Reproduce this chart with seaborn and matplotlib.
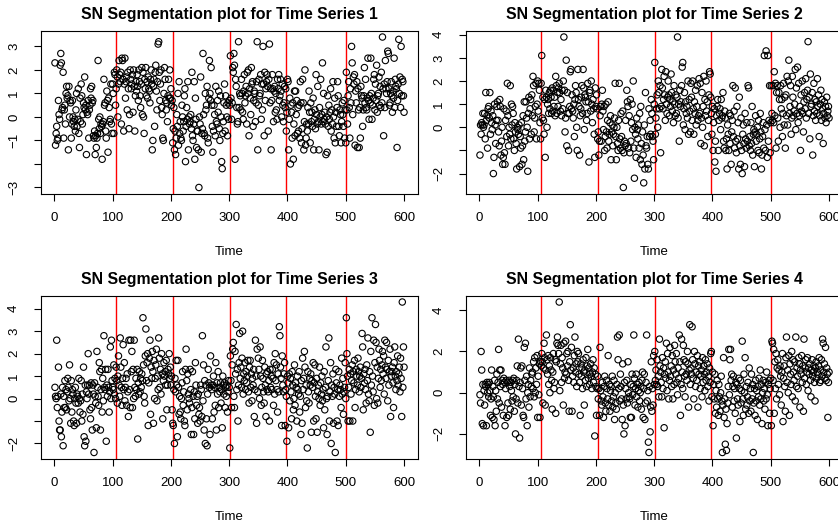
import numpy as np
import matplotlib
matplotlib.use("Agg")
import matplotlib.pyplot as plt
import seaborn as sns

# values (time 1..600)
ts1 = [
    2.3, -1.2, -0.7, -0.4, -1.0, -0.9, 0.7, 0.1, -0.1, 2.2,
    2.7, 2.3, 0.3, 0.4, 1.9, -0.9, 0.3, 0.5, -0.3, 1.0,
    1.3, 0.8, 0.9, -1.4, 1.3, 0.0, 0.7, 0.6, -0.9, -0.3,
    0.7, 0.0, -0.2, -0.4, -0.1, -0.6, 0.3, 1.0, -0.4, -0.1,
    1.2, -0.7, -1.3, 0.8, -0.2, 1.4, 0.9, -0.3, 0.1, 0.6,
    0.4, 1.7, 0.3, 0.5, -1.6, 0.2, 0.1, 0.7, -0.9, 0.3,
    0.5, 1.2, 0.8, 1.3, 0.6, 0.7, -0.8, -0.9, -0.6, -1.6,
    -0.8, -1.3, -0.9, -0.7, 2.4, -0.1, -0.5, 0.0, -0.7, -0.3,
    -0.4, -1.8, -0.3, -0.2, 1.6, 0.5, 0.6, -0.6, -0.9, 1.1,
    0.7, -1.5, 0.8, 0.4, -0.2, -0.1, 1.4, -0.3, -0.7, 1.4,
    1.0, -0.7, 1.9, 1.8, 0.5, 1.2, 2.0, 1.7, 0.0, 1.4,
    2.4, 1.8, 1.5, 1.9, -0.3, 2.5, 2.4, 1.6, -0.6, 1.4,
    2.5, 0.8, 1.5, 1.7, 0.3, 1.9, 1.2, -0.5, 0.1, 2.0,
    1.6, 1.2, 1.4, 1.8, 0.2, 2.0, 1.3, -0.6, 0.9, 1.5,
    1.1, 1.8, 1.3, 0.7, 2.0, 1.5, 0.9, 0.4, 1.4, 2.1,
    0.1, 1.9, 0.0, -0.7, 1.6, 1.2, 2.1, 0.9, 1.5, 0.8,
    1.7, 1.2, 1.1, 0.6, 1.6, 2.0, 1.4, -1.4, -1.0, 1.3,
    1.6, -0.4, 1.9, 2.2, 1.1, 0.3, 1.5, 3.1, 3.2, 1.9,
    0.7, 1.4, 2.0, 0.4, 0.1, -0.9, -1.0, 1.0, 2.1, 1.6,
    0.7, 0.3, 0.6, -0.2, 0.9, 1.6, 0.8, 2.0, 0.8, 1.2,
    0.5, 0.7, -1.1, -0.5, 0.4, -1.4, -0.6, -1.6, -0.9, 0.1,
    -0.4, 1.0, -1.2, 1.5, -0.7, -0.2, -0.9, -1.0, 0.5, 0.0,
    -0.6, -0.2, 0.9, 1.2, -1.9, -0.4, 0.4, -0.1, 1.5, -1.4,
    0.0, -0.3, -0.2, 0.1, -0.5, 1.9, -0.8, -1.0, -0.3, 1.5,
    -1.8, 0.8, -0.1, -1.3, -0.6, -0.6, -1.4, -3.0, 0.0, -0.3,
    1.7, -1.5, -0.7, -0.5, 2.7, 0.1, -0.7, -0.8, 1.0, 0.3,
    0.5, 1.3, -0.9, -1.1, 0.8, 2.4, 1.0, 0.7, 2.1, 0.5,
    -0.4, -1.5, -0.6, 0.5, 0.1, -0.8, 1.3, -0.2, -0.3, 0.7,
    0.2, 1.1, -0.5, -1.0, 0.9, 0.0, -1.9, -2.2, -0.7, -0.2,
    0.6, 1.4, -0.6, 0.9, 0.5, 0.0, -0.8, 0.6, -0.1, 0.7,
    0.5, 2.6, 0.8, -0.1, 0.6, 2.1, 1.9, 2.7, 2.2, -1.8,
    1.6, 1.3, 0.4, -0.3, -0.2, 3.2, 0.4, 1.0, 0.9, 0.3,
    1.6, 1.0, 0.2, -0.1, 1.1, 1.8, 0.6, 0.9, 1.3, -0.3,
    1.9, 1.0, 2.0, -0.8, 1.2, 0.8, 0.1, 2.1, 1.4, 1.5,
    -0.4, 0.7, 1.1, 1.0, -0.2, 0.6, 1.5, 3.2, -1.4, 0.5,
    1.6, 0.9, 1.0, 1.8, -0.1, 1.4, 0.3, 3.0, 1.4, -0.8,
    1.9, 0.7, 1.2, 1.5, 1.8, 1.3, -0.6, 1.6, 3.1, 0.6,
    1.2, -1.4, 0.7, 1.8, 1.2, -0.2, 1.1, 1.3, 0.2, 1.0,
    0.3, -0.1, 1.6, 1.2, 1.8, 0.7, 0.9, 1.6, 1.1, 0.0,
    1.4, 0.5, -0.2, 0.6, 1.3, 0.4, 1.2, -0.6, 0.2, 1.6,
    1.5, -1.4, -0.1, 0.8, -2.0, 0.5, 0.2, -0.9, 0.6, -1.8,
    -0.3, 1.1, -0.8, 1.1, 0.1, 0.7, -0.7, 0.4, -0.6, 0.5,
    -0.9, 1.5, 0.6, -1.1, -0.5, 1.6, 0.6, -1.4, -0.2, 2.0,
    -1.2, -0.9, -0.3, -0.6, 0.4, -0.3, 1.1, 0.2, -1.1, 0.6,
    -0.2, 0.2, -0.4, 0.8, -1.4, -0.1, 0.3, -0.5, 1.8, 0.1,
    -0.3, 1.3, -0.2, -1.4, 0.4, 0.0, 1.6, -0.3, 0.1, 2.3,
    -0.2, 1.0, -0.1, 0.2, -0.3, -1.6, 0.0, -1.5, 0.9, -0.4,
    0.5, -0.1, 0.2, 1.2, -0.6, 0.3, -0.3, 1.5, 0.0, -0.9,
    0.8, -1.1, 0.2, -0.4, 0.4, 1.5, 0.9, -0.4, -0.8, 0.3,
    0.1, -1.1, -0.2, 0.6, 0.1, -0.4, 0.7, -0.9, 0.3, -1.1,
    1.9, 0.3, -0.3, 0.9, 1.5, 0.4, -0.9, 1.2, 0.6, 3.0,
    2.3, 0.1, 1.7, 1.4, 1.8, -1.2, 1.1, 0.6, 1.5, -1.3,
    1.2, 0.3, -1.3, 0.4, -0.9, 1.3, 0.9, 0.8, -0.4, 0.3,
    0.9, 2.1, 0.6, 1.6, 0.4, 0.3, 0.8, 2.5, 0.7, -0.1,
    0.9, 0.6, 2.5, 1.0, -0.1, 0.5, 0.8, 1.6, 1.8, 0.3,
    1.4, 0.7, 2.2, 0.2, 0.9, 1.0, 1.7, 0.5, 1.3, 0.4,
    1.9, 0.6, 3.4, 1.2, -0.8, 1.4, 0.4, 2.4, 1.2, 1.0,
    1.5, 2.8, 2.7, 1.2, 0.5, 0.6, 1.0, 1.5, 0.9, 0.2,
    1.1, 0.8, 2.5, 0.4, 1.6, 1.3, 1.2, -1.3, 0.7, 1.4,
    3.3, 1.0, 1.7, 0.4, 3.0, 0.9, 1.6, 1.5, 0.9, 0.2,
]

ts2 = [
    -1.2, 0.1, -0.3, 0.2, 0.1, 0.6, 0.0, 0.1, 0.6, -0.5,
    1.5, 0.3, 0.5, -0.9, 0.8, 0.9, 0.4, 1.5, -0.3, 0.7,
    0.2, -0.1, 0.5, -2.0, -1.3, 1.0, 0.1, -0.7, 0.3, 0.9,
    1.1, 0.3, -0.2, -0.8, 1.2, 0.9, -1.2, -0.6, 0.0, -1.6,
    -1.3, 0.8, -1.1, -1.6, 0.3, 0.7, -0.4, 1.9, 0.5, -0.8,
    0.0, -0.3, 1.8, -0.5, 1.0, 0.1, 0.9, 0.6, -0.5, -1.0,
    0.2, -0.2, -0.7, -1.8, 0.0, -0.1, -0.3, 0.1, -1.7, -0.4,
    -0.9, 0.2, -1.6, -0.8, 0.5, -1.4, 1.1, -0.6, -0.2, 1.1,
    0.4, 0.0, -1.9, 0.6, 1.3, -0.5, 0.8, 1.2, -0.3, 1.4,
    0.5, 2.2, 1.8, -0.2, 0.4, 0.9, 1.9, -0.5, 1.0, 2.0,
    0.7, 1.9, 1.6, 0.2, -0.5, 1.9, 3.1, 0.4, 1.3, 0.3,
    -0.3, 1.2, -1.3, 1.6, 1.3, 0.0, 1.0, 1.2, 0.6, 1.5,
    0.8, 1.6, 1.3, 0.6, 1.7, 0.7, 1.6, 0.9, 1.3, 0.5,
    2.2, 1.8, 0.6, 1.5, 0.9, 1.7, 1.9, 1.5, 0.7, 1.2,
    0.5, 1.6, 0.8, 2.0, 3.9, 1.6, -0.2, 0.4, 2.9, -0.8,
    1.5, 0.6, -1.0, 0.6, 0.9, 2.4, 2.5, 0.8, 1.4, 0.7,
    0.4, 1.0, -0.4, 1.2, 1.8, 1.5, 0.0, -1.0, 2.5, 1.2,
    0.9, -1.2, 0.5, 0.8, 1.3, 1.8, 0.6, 2.5, 1.7, -0.1,
    1.4, 1.3, 1.1, 0.3, 0.6, 1.9, 1.1, -1.5, 1.5, 1.6,
    0.7, 2.0, 1.0, 0.2, 1.2, 0.8, -0.3, -1.3, 1.7, 0.9,
    1.4, 0.8, -0.5, -0.2, -1.2, -0.6, 0.5, 0.9, -0.6, 1.0,
    1.6, 0.7, -0.1, 0.9, -1.0, -0.4, 1.0, -0.2, -0.9, 0.3,
    1.1, -0.6, -0.3, 0.2, 0.5, -1.4, -0.2, 0.1, -0.8, -0.3,
    0.0, 0.4, 1.9, -0.4, -1.4, 0.0, -0.7, -1.0, 0.3, 1.9,
    -0.5, -0.9, 0.6, -0.4, -1.0, 0.7, -2.6, -1.1, -0.6, -0.8,
    0.3, -0.7, 1.6, 1.1, 0.9, -0.9, 0.5, -1.1, 1.2, -0.6,
    0.2, 1.0, -0.1, 2.0, -0.9, -2.2, 0.0, -0.3, -1.3, 0.4,
    -0.1, -0.5, 0.1, -0.9, 0.6, -1.4, 0.9, -0.7, -1.6, -0.2,
    -1.2, -2.4, 0.1, -1.8, 1.5, -0.8, -0.9, -0.4, -1.6, -1.8,
    0.8, -0.4, 0.3, -0.3, 1.2, 0.6, -0.4, -0.6, -1.4, 1.0,
    2.8, -0.3, 0.4, 0.8, 1.4, 0.0, 2.0, 1.5, 0.8, 1.8,
    -1.1, 0.9, 2.5, 1.7, 0.8, 1.2, 2.2, 1.4, 0.3, 2.4,
    1.0, 0.6, 1.3, 2.0, 1.4, 0.5, 1.2, 0.9, 2.3, 1.5,
    0.7, 1.1, 0.2, 1.8, 1.0, 0.5, 1.4, 0.6, 1.3, 3.9,
    0.4, 1.0, -0.6, 1.6, 0.9, 1.1, 1.8, 2.6, 2.8, 0.1,
    0.8, 1.5, -0.1, 1.1, 0.6, 0.9, 0.4, 2.0, -0.3, 1.2,
    0.7, -0.2, 1.9, 1.3, 0.3, 2.0, 0.8, -0.3, 1.1, 0.6,
    1.6, 0.1, 0.9, 1.8, 0.3, 0.5, 2.1, 0.6, 1.9, -0.7,
    0.4, 1.5, 0.0, 0.9, 2.2, -0.8, 1.2, 0.5, 2.0, 0.7,
    1.1, -0.4, 0.3, 1.4, 2.4, 2.3, 1.3, 0.6, -0.3, 0.9,
    -1.0, 0.2, 0.8, -1.5, -0.6, -1.9, 0.5, 0.9, 1.2, -1.0,
    0.3, 0.6, 0.8, -0.1, 1.2, 0.4, 0.5, 1.5, -0.6, -0.9,
    0.7, 0.4, -1.0, -0.5, -1.8, 0.1, -0.3, -1.0, 0.6, -0.7,
    0.5, -1.6, -0.2, 0.3, 1.8, -0.4, 0.7, -0.9, 1.7, -0.6,
    -1.1, 0.9, -0.5, 0.2, -1.8, 1.3, -0.8, -1.6, 0.4, -1.0,
    -2.0, -0.3, 0.1, -0.7, -1.7, 0.6, -0.5, -0.9, 0.2, -0.6,
    1.8, 1.7, -0.8, -0.4, -1.0, 0.2, -0.7, 0.9, -1.2, -0.3,
    -0.1, -1.7, -0.2, 0.5, -0.6, -0.3, 0.0, -1.0, 0.3, -1.1,
    -0.5, 0.6, -0.2, -1.8, -1.2, -0.4, 0.2, -0.9, 3.1, -0.1,
    -1.0, 3.3, 0.1, -1.3, 3.1, -0.6, 0.3, 1.8, -1.1, 0.2,
    1.8, 0.6, 0.3, 1.8, 0.2, 2.4, 0.5, 1.9, -0.9, 1.5,
    1.8, 0.4, -0.6, 1.5, 1.2, 0.0, 1.8, 0.8, 1.2, -0.4,
    0.6, 1.9, 0.1, 1.3, -0.9, 1.4, 0.5, 2.2, 0.1, 2.0,
    2.9, 0.6, 0.9, 1.8, -0.3, 0.4, 2.2, 1.3, 0.5, 0.7,
    1.0, 2.5, -0.1, 1.7, 0.6, 2.6, 0.2, 1.9, 0.5, 0.9,
    -1.0, 1.4, 0.7, 2.0, 0.6, -0.2, 1.1, 1.5, 0.8, 2.1,
    0.4, 1.2, 1.6, 3.7, 0.6, 1.3, -0.5, 2.3, 0.9, 1.0,
    1.5, -1.2, 0.5, 1.9, 0.7, 1.2, 0.3, 1.1, 0.6, 2.1,
    0.9, 1.4, -0.4, 0.5, 1.0, 1.6, 0.3, 1.2, 0.8, -0.7,
    0.6, 1.1, 0.4, 0.9, 0.2, 1.3, 0.5, 0.7, 0.9, 0.4,
]

ts3 = [
    0.5, 0.1, 0.0, 2.6, -0.4, 0.1, 1.4, -1.0, -1.4, -1.4,
    0.2, -1.7, -0.6, 0.5, -2.1, 0.1, -0.4, 0.8, -0.4, 0.4,
    -0.5, 0.3, 0.9, 0.5, -0.1, 1.5, 0.0, -1.1, 0.8, -0.6,
    0.4, 0.2, -1.0, -1.2, 0.0, 0.5, -0.2, -1.1, 0.2, 0.1,
    -0.2, 0.9, 0.0, -0.6, -0.1, 0.8, -1.0, 0.2, -0.7, 1.4,
    -1.7, -2.1, 0.6, -1.9, 0.3, 0.0, 0.6, 2.0, 0.2, 0.6,
    -0.5, -0.9, 0.7, -0.4, -1.4, 0.6, 0.2, -2.4, 0.7, 0.1,
    -0.2, -1.3, 2.1, 0.5, 0.1, -0.3, 1.6, 1.2, -1.4, 0.4,
    1.3, -0.6, 0.9, -0.1, 2.8, 0.5, 0.4, 1.3, -1.9, 0.6,
    0.1, 1.3, 0.5, -0.6, 0.3, 2.3, 0.0, 2.6, 0.8, 0.5,
    0.4, 1.5, 0.2, 0.9, 0.0, 1.4, 0.8, -0.2, 1.0, 1.9,
    0.6, 0.1, 2.7, 1.4, 0.5, -0.3, 0.9, 2.4, 0.4, 1.6,
    -0.1, 0.5, 0.9, -0.3, 1.1, 0.3, -0.8, 2.6, 0.4, -0.4,
    2.6, 1.2, 2.1, -0.4, 1.3, 0.0, 2.6, 0.5, 0.1, 0.9,
    0.4, 1.3, -1.8, 0.7, 0.2, 1.2, 0.3, 0.9, 0.5, 1.1,
    0.8, 3.6, 1.5, 0.1, -0.2, 1.9, 3.1, 0.8, 1.6, 2.0,
    -1.2, 0.7, 1.8, 2.6, -0.7, 1.4, 0.9, 2.1, 1.2, -1.1,
    1.7, 0.0, 0.9, 1.5, 2.2, -0.1, 1.0, 0.4, 2.7, 1.8,
    0.5, 1.3, 0.2, 2.0, 1.1, -0.9, 0.8, 1.6, 1.0, 1.2,
    0.6, 1.7, -0.5, 0.6, 1.3, 1.1, 2.0, 0.9, 1.4, 0.6,
    1.0, -0.5, -1.1, -1.2, 0.4, -2.0, 0.9, 0.3, 1.7, 0.6,
    -1.7, 1.7, 0.5, -0.7, 0.1, -0.6, -0.9, 0.0, 0.7, 1.2,
    -0.3, 0.3, -1.0, -1.2, 1.3, 2.2, 0.8, -0.5, 1.1, 0.2,
    0.0, -0.2, 1.3, 0.4, -1.6, -0.4, 1.2, 0.1, -1.6, 0.3,
    -0.9, 1.6, 0.6, -0.3, 0.1, -1.1, 0.2, -0.7, -0.4, -1.0,
    0.6, 0.4, -0.8, 2.8, -0.1, 1.5, -1.4, 0.8, -2.0, 0.6,
    -0.9, -2.1, 0.2, 1.3, 0.7, 0.5, -1.6, 1.9, 0.6, 0.4,
    -0.9, 0.6, 1.0, -0.6, 0.5, -0.3, 1.6, -1.4, 0.7, 0.2,
    1.2, -0.4, 0.5, 0.3, 0.7, -0.2, 0.4, -1.3, 1.0, 0.6,
    0.2, 0.7, -0.4, 0.5, 0.1, 0.6, -0.6, 0.3, 0.8, 0.5,
    -2.2, 1.9, 0.8, -0.4, 1.5, 2.2, 2.5, 0.1, -0.4, 2.1,
    1.1, 3.3, 0.4, 1.3, -1.0, 0.6, 1.6, 2.9, 0.9, 1.4,
    0.5, 1.8, 3.0, 0.2, 1.1, 0.8, 1.6, 0.4, 1.2, 0.7,
    1.0, 1.7, 0.3, -0.2, 1.4, 1.7, 0.5, 1.1, -0.1, 0.9,
    0.6, 1.3, -0.8, 0.4, 2.6, 1.0, -1.1, 2.2, 0.3, 1.8,
    1.3, 0.0, 2.3, 1.0, -0.3, 0.5, 1.7, 0.9, 0.3, -0.2,
    1.4, 0.6, -0.8, 1.1, 0.4, 1.2, 0.3, 0.8, -1.0, 1.3,
    0.5, 1.0, 0.4, 1.3, 0.9, -0.3, 1.6, 0.2, 2.0, 0.8,
    1.5, 0.4, -0.6, 1.1, 0.3, 3.2, 2.8, 1.4, 0.9, -1.2,
    1.9, 0.6, 0.3, 1.1, 1.6, -1.2, 0.4, 0.1, -1.9, 1.0,
    0.7, -1.3, 1.1, -0.1, 0.9, 0.3, -0.9, 1.2, 0.6, -0.5,
    0.0, 1.5, -0.3, 0.7, 0.5, -1.0, 1.0, 0.4, 0.2, 1.2,
    -0.6, 0.1, -1.6, 0.8, -1.1, 1.8, 0.4, 0.9, 2.1, 1.4,
    -0.4, 0.6, -0.1, -2.2, 1.2, 0.3, -0.2, 0.9, 0.6, 1.1,
    -1.5, 0.8, 0.5, 1.6, -1.0, 0.7, 1.5, 0.1, -0.9, 0.9,
    -1.5, 0.3, 0.6, 0.0, 1.4, -0.3, 0.7, 0.2, 1.0, -0.1,
    0.4, -1.3, 1.2, -0.5, 0.5, 2.3, 0.0, -1.6, 0.1, 0.8,
    2.7, -1.0, 0.3, 1.6, -2.0, 0.6, 0.1, 1.1, -1.1, 0.5,
    0.2, -2.4, 1.3, 0.7, -1.0, 0.4, -1.2, 1.2, 0.1, 0.6,
    0.4, -0.4, 1.8, 0.2, 0.9, -0.7, 0.3, 0.5, 1.6, 0.0,
    3.6, 2.0, 1.0, -1.0, 0.5, 1.3, -1.0, 1.1, 0.2, 0.8,
    1.5, -1.0, 1.2, 0.7, 1.7, -0.4, 0.4, 1.3, 1.0, 0.6,
    1.8, 1.2, 0.3, 1.0, 1.4, 0.5, 0.9, 2.9, 2.3, -0.5,
    1.1, 0.7, 1.3, 0.4, -0.2, 1.5, 0.8, 2.7, 0.2, -0.1,
    1.2, -1.5, 2.1, 0.6, 3.6, 1.0, 0.3, 2.6, -0.3, 1.6,
    3.3, 2.5, 0.0, 1.4, -0.2, 0.9, 2.2, 1.7, 0.5, 1.3,
    0.8, 1.5, 2.1, 1.1, 1.9, 0.2, 2.6, 1.4, 0.9, 2.5,
    1.3, -0.1, 1.7, 0.6, 1.2, 2.2, -0.8, 1.0, 1.2, 1.4,
    0.7, -0.4, 1.6, 2.3, 1.0, 0.4, 1.2, 0.8, 1.9, 0.6,
    1.1, 1.4, 0.3, 1.8, 0.9, -0.8, 4.3, 0.5, 2.3, 1.4,
]

ts4 = [
    -0.1, -0.5, 2.0, 1.1, -1.5, 0.4, -1.6, 0.1, -0.6, 0.4,
    0.3, -1.6, 0.5, 0.0, 0.4, -0.2, 0.5, 0.1, -1.1, -0.3,
    1.1, -1.2, 0.3, -0.2, -1.3, 0.6, -1.6, 0.1, -0.9, 0.9,
    -0.3, 0.5, 2.1, -0.5, 1.1, 0.3, 1.1, -0.7, 0.6, 0.4,
    -1.1, 0.7, 0.5, -1.6, 0.2, 0.6, -1.2, 0.5, -0.5, -1.1,
    0.6, 0.3, -0.8, 0.5, 0.1, -0.4, 0.6, -0.2, 0.7, -0.9,
    0.4, -2.0, -0.3, 0.6, 1.3, -0.5, 2.6, 0.3, -2.2, 0.5,
    1.2, -0.6, 1.3, 0.2, -1.1, -1.2, 2.2, 0.6, 2.4, -0.3,
    0.8, -1.6, 0.0, 0.4, -0.7, 1.2, -0.2, 0.6, 0.3, 0.9,
    1.0, 0.2, 1.5, -0.2, 1.7, 0.0, 1.2, 0.4, 1.8, -1.2,
    0.8, -0.1, 1.4, -1.2, 1.5, 1.3, 1.9, 1.5, -0.5, 1.2,
    2.4, 1.7, -0.6, 1.1, 2.8, 1.6, 0.9, 1.8, 0.4, 1.3,
    0.0, 1.7, 1.1, 0.6, -0.8, 1.0, 1.9, 0.2, 0.5, 1.6,
    -1.0, 1.5, 2.4, 2.7, 2.3, 1.9, 4.4, 0.1, 1.4, 2.3,
    0.5, 1.7, 1.2, -0.6, 2.4, 0.7, 1.0, 2.5, 0.9, 1.9,
    1.3, 2.0, 0.6, -0.9, 1.5, 3.3, 1.1, 2.2, -0.9, 0.8,
    1.2, 0.5, 1.8, 2.7, 1.0, 1.4, 0.3, 2.0, 1.5, 1.9,
    0.9, 0.5, -1.1, 1.4, 0.8, 1.2, 0.2, 1.6, 1.0, -0.6,
    1.1, 0.6, 1.7, 0.3, 1.3, 2.1, 0.7, 1.2, 0.4, 0.9,
    1.4, 0.8, 0.2, 1.0, 1.6, 0.5, 1.2, -2.1, 0.9, 0.3,
    -1.1, 0.2, 0.8, -0.3, 0.2, -1.1, 2.2, 0.1, -0.4, -0.6,
    0.5, -0.2, -1.2, 0.3, 0.8, -0.5, -0.9, 0.6, 0.2, -0.3,
    1.8, -0.6, 0.4, -0.9, 0.1, 0.3, -0.4, 0.8, -0.7, -0.2,
    0.6, -1.3, 0.0, -0.5, -0.8, 0.4, 2.7, 1.6, 0.2, 2.8,
    -0.4, 0.9, 0.3, -0.3, -1.3, 1.4, -0.6, -2.0, 0.5, -1.6,
    0.2, -0.3, 0.6, -0.5, 1.5, 0.0, -0.2, -0.3, -1.2, 0.4,
    -1.2, 0.9, -0.1, 0.3, 2.8, 0.7, -0.6, 0.2, 0.9, -0.2,
    0.4, -0.7, 0.1, 0.5, -0.4, 0.0, 0.3, -0.8, 0.6, 1.0,
    -1.2, 0.2, 0.9, -1.3, -0.5, 0.5, 2.8, -0.4, 0.1, -2.4,
    -2.9, 0.3, -1.9, -0.7, 1.5, -0.9, 0.2, -0.6, 1.8, 0.4,
    2.0, 0.6, 1.1, 0.4, 1.6, 0.3, 0.8, -0.2, 2.6, 1.3,
    1.0, 0.5, -0.2, 1.7, 0.2, 1.2, -1.7, 0.9, 1.5, 0.7,
    2.4, 0.1, 1.9, 1.0, -0.3, 0.6, 2.2, 0.8, 1.3, 0.3,
    1.8, -0.3, 1.1, 0.4, 2.3, 1.5, 0.9, 1.9, 0.5, -0.1,
    1.2, 0.7, 2.8, 1.5, -1.1, 0.4, 2.6, 1.0, 0.2, 2.3,
    1.6, 0.8, -0.2, 1.5, 0.9, 0.6, 2.0, 1.4, -0.7, 1.1,
    3.3, 0.4, 1.2, 0.9, 3.2, 1.6, 0.7, -0.3, 2.0, 1.4,
    0.3, 1.0, 0.6, 1.8, -0.7, 1.3, 0.9, 1.5, 0.2, 0.8,
    1.1, -0.2, 1.7, 0.5, 1.3, 0.9, 0.1, 1.6, 0.6, 1.0,
    1.4, 0.3, 0.8, -0.4, 1.2, 0.5, 1.9, 2.0, -0.2, 1.0,
    -1.6, 0.4, -0.3, 0.9, -1.0, 0.1, -0.7, 0.6, -0.3, -1.1,
    0.4, -0.2, -0.9, 0.0, 0.8, -0.4, -2.9, -0.6, 1.7, -1.2,
    -0.3, -2.5, -0.8, -2.8, -1.5, -0.5, 0.3, 2.1, -0.1, 1.6,
    2.1, 0.6, 0.9, -0.7, 0.3, 0.8, -0.4, 0.2, -1.0, 0.5,
    -2.2, 0.4, -0.3, -0.6, 0.7, 0.2, -1.4, 0.6, -0.5, 0.1,
    2.5, -0.3, -1.1, 0.9, 0.0, 1.7, -0.8, 0.3, -0.6, -0.2,
    0.5, -1.0, 1.2, -0.4, 0.2, -0.9, 0.9, -0.3, 0.4, -2.9,
    -0.5, 0.2, -1.1, 0.6, -0.4, 0.1, -1.3, 0.3, -0.2, 0.7,
    -0.6, 1.1, -0.3, 0.4, -1.5, 0.0, 0.6, -0.4, 0.2, -0.8,
    0.5, -0.3, 1.0, -0.1, -1.6, 0.4, 0.6, -1.0, 0.2, 0.7,
    -1.6, 2.5, 2.4, 0.6, 2.1, -1.0, 1.5, 0.2, 1.9, -0.3,
    1.2, 1.6, 0.4, 1.1, -0.1, 1.3, 0.8, -0.6, 1.0, 1.9,
    -1.4, 0.7, 1.3, 0.3, -0.9, 1.7, 2.7, 0.5, 1.1, 0.0,
    1.8, -1.1, 1.4, 0.9, 0.4, 2.0, -0.2, 1.6, 1.0, 0.6,
    1.5, -0.4, 2.7, 0.3, 1.2, 0.8, 0.2, 1.7, 1.4, -0.7,
    1.1, 0.9, 1.8, 0.5, 1.3, -0.9, 2.6, 0.7, 1.2, 1.6,
    0.4, 1.0, 1.7, 0.1, 1.2, 0.9, 1.4, 0.6, -0.2, 1.1,
    1.6, 0.8, 1.0, 1.3, 0.5, -0.4, 1.2, 1.5, 0.7, 1.0,
    0.9, 1.3, 1.7, 0.5, 1.1, 0.6, 1.6, 0.8, 2.6, 2.4,
    1.0, 1.4, 0.7, 2.2, 0.6, 1.2, 0.9, -1.2, 0.5, 1.0,
]

series = [ts1, ts2, ts3, ts4]
titles = [f"SN Segmentation plot for Time Series {k}" for k in range(1, 5)]
change_points = [105, 203, 302, 397, 500]
x_ticks = [0, 100, 200, 300, 400, 500, 600]
y_ticks = [
    [-3, -2, -1, 0, 1, 2, 3],
    [-2, -1, 0, 1, 2, 3, 4],
    [-2, -1, 0, 1, 2, 3, 4],
    [-2, 0, 2, 4],
]
# R drops the labels that would overlap
y_labels = [
    ["\u22123", "", "\u22121", "0", "1", "2", "3"],
    ["\u22122", "", "0", "1", "2", "3", "4"],
    ["\u22122", "", "0", "1", "2", "3", "4"],
    ["\u22122", "0", "2", "4"],
]

sns.set_style("ticks")
plt.rcParams["font.family"] = ["Liberation Sans", "DejaVu Sans"]
plt.rcParams["text.color"] = "black"
plt.rcParams["axes.labelcolor"] = "black"
plt.rcParams["axes.titlecolor"] = "black"

W, H = 838, 526
fig = plt.figure(figsize=(W / 100, H / 100), dpi=100)

# plot boxes in pixels: left, top (right-hand panels run past the image edge)
boxes = [(41, 31), (466, 31), (41, 296), (466, 296)]
box_w, box_h = 377, 162.5

for i, vals in enumerate(series):
    left, top = boxes[i]
    ax = fig.add_axes([left / W, 1 - (top + box_h) / H, box_w / W, box_h / H])
    y = np.array(vals)
    t = np.arange(1, len(y) + 1)
    sns.scatterplot(x=t, y=y, ax=ax, marker="o", s=21, facecolors="none",
                    edgecolor="black", linewidth=0.8, zorder=3)
    for cp in change_points:
        ax.axvline(cp, color="red", lw=1.0, zorder=2)

    pad_x = 0.04 * (t.max() - t.min())
    pad_y = 0.04 * (y.max() - y.min())
    ax.set_xlim(t.min() - pad_x, t.max() + pad_x)
    ax.set_ylim(y.min() - pad_y, y.max() + pad_y)

    ax.set_xticks(x_ticks)
    ax.set_xticklabels([str(v) for v in x_ticks])
    ax.set_yticks(y_ticks[i])
    ax.set_yticklabels(y_labels[i], rotation=90, va="center")

    ax.tick_params(axis="both", direction="out", length=5, width=0.8,
                   color="black", labelsize=9.5, labelcolor="black")
    ax.tick_params(axis="x", pad=8)
    ax.tick_params(axis="y", pad=10)
    for sp in ax.spines.values():
        sp.set_visible(True)
        sp.set_color("black")
        sp.set_linewidth(0.8)

    ax.set_xlabel("Time", fontsize=9.5, labelpad=16)
    ax.set_ylabel("")
    ax.set_title(titles[i], fontsize=11.4, fontweight="bold", pad=8.5)

fig.savefig("out.png", dpi=100)
